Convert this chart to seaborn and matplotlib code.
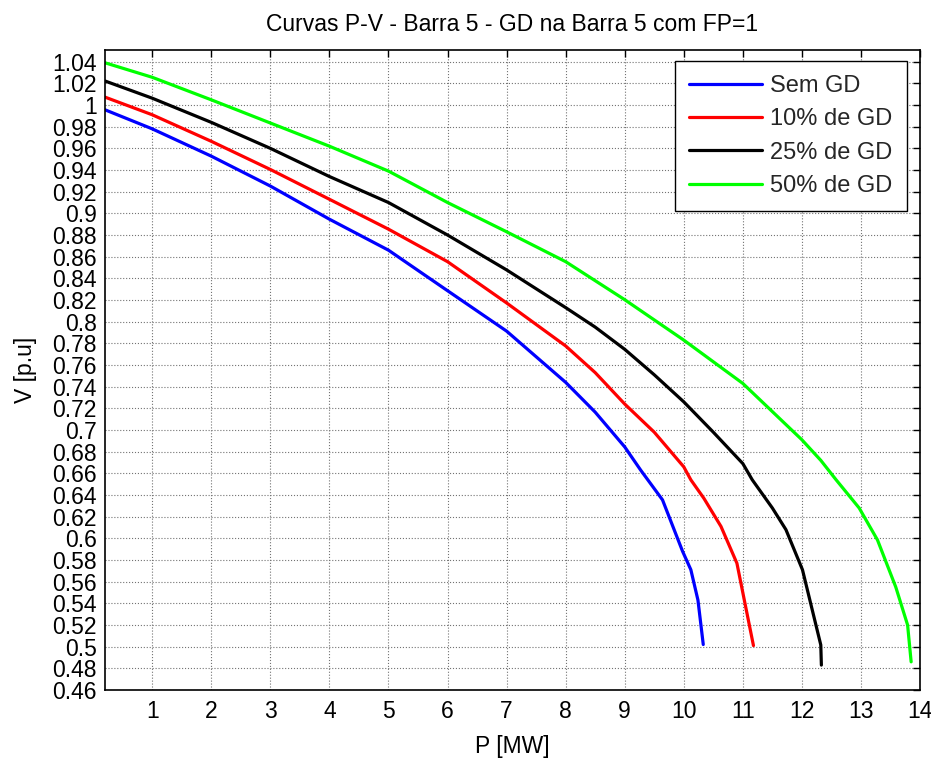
import matplotlib
matplotlib.use("Agg")
import matplotlib.pyplot as plt
import seaborn as sns
import pandas as pd
from matplotlib.ticker import FuncFormatter, MultipleLocator

# ---- data ----
p_sem = [0.2, 1, 2, 3, 4, 5, 6, 7, 8, 8.5, 9, 9.27, 9.64, 9.98, 10.12, 10.24, 10.33]
v_sem = [0.9956, 0.978, 0.9528, 0.9252, 0.8946, 0.866, 0.8286, 0.7913, 0.744, 0.7165,
         0.6844, 0.663, 0.6355, 0.588, 0.571, 0.543, 0.502]

p_10 = [0.2, 1, 2, 3, 4, 5, 6, 7, 8, 8.5, 9, 9.5, 10, 10.12, 10.34, 10.63, 10.9, 11.18]
v_10 = [1.0073, 0.991, 0.9665, 0.9405, 0.913, 0.8854, 0.8554, 0.8173, 0.7776, 0.753,
        0.724, 0.698, 0.666, 0.654, 0.637, 0.611, 0.577, 0.501]

p_25 = [0.2, 1, 2, 3, 4, 5, 6, 7, 8, 8.5, 9, 9.5, 10, 10.5, 11, 11.16, 11.5, 11.73,
        12.01, 12.32, 12.33]
v_25 = [1.0222, 1.0063, 0.984, 0.960, 0.934, 0.910, 0.880, 0.8478, 0.813, 0.795,
        0.7745, 0.751, 0.726, 0.698, 0.669, 0.654, 0.628, 0.608, 0.571, 0.5016, 0.483]

p_50 = [0.2, 1, 2, 3, 4, 5, 6, 7, 8, 9, 10, 11, 12, 12.32, 12.58, 12.97, 13.28,
        13.59, 13.79, 13.85]
v_50 = [1.039, 1.0256, 1.0048, 0.9834, 0.962, 0.939, 0.910, 0.883, 0.8554, 0.8203,
        0.783, 0.743, 0.691, 0.672, 0.654, 0.628, 0.5985, 0.555, 0.520, 0.486]

series_names = ["Sem GD", "10% de GD", "25% de GD", "50% de GD"]
series_colors = ["#0000ff", "#ff0000", "#000000", "#00ff00"]

x_ticks = list(range(1, 15))
title = "Curvas P-V - Barra 5 - GD na Barra 5 com FP=1"
xlabel = "P [MW]"
ylabel = "V [p.u]"

# ---- build long table ----
frames = []
for name, p, v in zip(series_names, [p_sem, p_10, p_25, p_50], [v_sem, v_10, v_25, v_50]):
    frames.append(pd.DataFrame({"P": p, "V": v, "Serie": name}))
df = pd.concat(frames, ignore_index=True)

sns.set_theme(style="white")
plt.rcParams["font.family"] = ["Liberation Sans", "DejaVu Sans"]
plt.rcParams["xtick.direction"] = "in"
plt.rcParams["ytick.direction"] = "in"

fs = 16.5
fig = plt.figure(figsize=(9.31, 7.58), dpi=100)
ax = fig.add_axes([105 / 931, 68 / 758, 815 / 931, 640 / 758])

sns.lineplot(data=df, x="P", y="V", hue="Serie", hue_order=series_names,
             palette=dict(zip(series_names, series_colors)), sort=False,
             estimator=None, linewidth=2.3, ax=ax)

ax.set_xlim(0.2, 14)
ax.set_ylim(0.46, 1.0508)
ax.set_xticks(x_ticks)
ax.yaxis.set_major_locator(MultipleLocator(0.02))
ax.yaxis.set_major_formatter(FuncFormatter(lambda v, pos: "{:g}".format(round(v, 2))))
ax.xaxis.set_major_formatter(FuncFormatter(lambda v, pos: "{:g}".format(v)))

ax.grid(True, linestyle=":", color="0.45", linewidth=0.8)
for s in ax.spines.values():
    s.set_visible(True)
    s.set_color("black")
    s.set_linewidth(1.2)
ax.tick_params(axis="both", which="both", direction="in", length=5, width=1,
               color="black", labelsize=fs, top=True, right=True,
               labelcolor="black")
ax.tick_params(axis="x", pad=7)
ax.tick_params(axis="y", pad=6)

ax.set_title(title, fontsize=fs, color="black", pad=14)
ax.set_xlabel(xlabel, fontsize=fs, color="black", labelpad=9)
ax.set_ylabel(ylabel, fontsize=fs, color="black", labelpad=11)

leg = ax.legend(loc="upper right", bbox_to_anchor=(0.9837, 0.9833),
                borderaxespad=0, fontsize=17, frameon=True, fancybox=False,
                handlelength=3.1, handletextpad=0.35, labelspacing=0.48,
                borderpad=0.6, title=None)
leg.get_frame().set_edgecolor("black")
leg.get_frame().set_linewidth(1.0)
leg.get_frame().set_alpha(1)
for line in leg.get_lines():
    line.set_linewidth(2.3)

fig.savefig("out.png", dpi=100, facecolor="white")
